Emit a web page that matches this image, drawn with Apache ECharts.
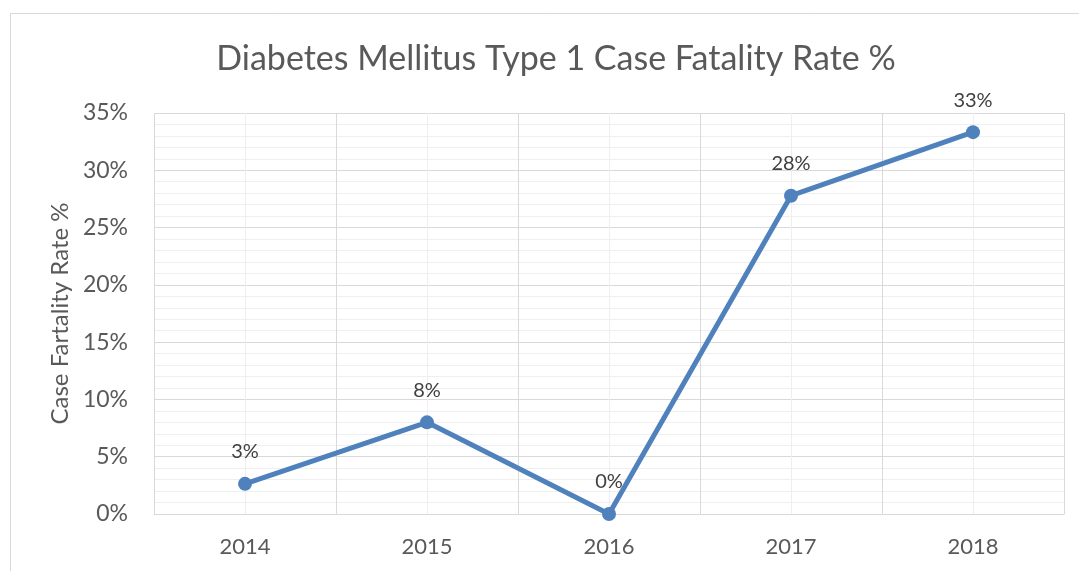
<!DOCTYPE html>
<html>
<head>
<meta charset="utf-8">
<title>Diabetes Mellitus Type 1 Case Fatality Rate %</title>
<script src="https://cdn.jsdelivr.net/npm/echarts@6/dist/echarts.min.js"></script>
<style>
  html, body { margin: 0; padding: 0; background: #fff; }
  #chart { width: 1079px; height: 571px; }
</style>
</head>
<body>
<div id="chart"></div>
<script>
// chart data
const years = ['2014', '2015', '2016', '2017', '2018']
const fatalityRate = [0.0263, 0.08, 0, 0.2778, 0.3333]
const yTicks = [0, 0.05, 0.1, 0.15, 0.2, 0.25, 0.3, 0.35]

const textColor = '#595959'
const fontFamily = 'Lato, "Noto Sans", sans-serif'

const chart = echarts.init(document.getElementById('chart'))

chart.setOption({
  animation: false,
  textStyle: { fontFamily },
  title: {
    text: 'Diabetes Mellitus Type 1 Case Fatality Rate %',
    left: 551,
    top: 37,
    textAlign: 'center',
    textStyle: { fontSize: 34, fontWeight: 'normal', color: textColor, fontFamily }
  },
  graphic: [{
    type: 'polyline',
    shape: { points: [[1079, 13.5], [10.5, 13.5], [10.5, 571]] },
    style: { stroke: '#d9d9d9', lineWidth: 1, fill: null },
    silent: true
  }],
  grid: { left: 154, right: 15, top: 113, bottom: 57 },
  xAxis: [{
    type: 'category',
    data: years,
    boundaryGap: true,
    axisLine: { lineStyle: { color: '#d9d9d9', width: 1 } },
    axisTick: { show: false },
    axisLabel: { color: textColor, fontSize: 22, margin: 22 },
    splitLine: { show: true, lineStyle: { color: '#d9d9d9', width: 1 } },
    z: 2
  }, {
    // hidden helper axis for the lighter lines through category centres
    type: 'value',
    min: 0,
    max: years.length * 2,
    interval: 1,
    show: true,
    axisLine: { show: false },
    axisTick: { show: false },
    axisLabel: { show: false },
    splitLine: { show: true, lineStyle: { color: '#efefef', width: 1 } },
    z: 1
  }],
  yAxis: {
    type: 'value',
    min: yTicks[0],
    max: yTicks[yTicks.length - 1],
    interval: yTicks[1] - yTicks[0],
    name: 'Case Fartality Rate %',
    nameLocation: 'middle',
    nameGap: 80,
    nameTextStyle: { color: textColor, fontSize: 24 },
    axisLine: { show: false },
    axisTick: { show: false },
    axisLabel: {
      color: textColor,
      fontSize: 23,
      margin: 26,
      formatter: v => Math.round(v * 100) + '%'
    },
    splitLine: { lineStyle: { color: '#d9d9d9', width: 1 } },
    minorTick: { show: false, splitNumber: 5 },
    minorSplitLine: { show: true, lineStyle: { color: '#efefef', width: 1 } }
  },
  series: [{
    name: 'Case Fatality Rate',
    type: 'line',
    data: fatalityRate,
    xAxisIndex: 0,
    symbol: 'circle',
    symbolSize: 14,
    lineStyle: { color: '#4f81bd', width: 5 },
    itemStyle: { color: '#4f81bd' },
    label: {
      show: true,
      position: 'top',
      distance: 15,
      color: '#404040',
      fontSize: 20,
      formatter: p => Math.round(p.value * 100) + '%'
    },
    z: 5
  }]
})
</script>
</body>
</html>
